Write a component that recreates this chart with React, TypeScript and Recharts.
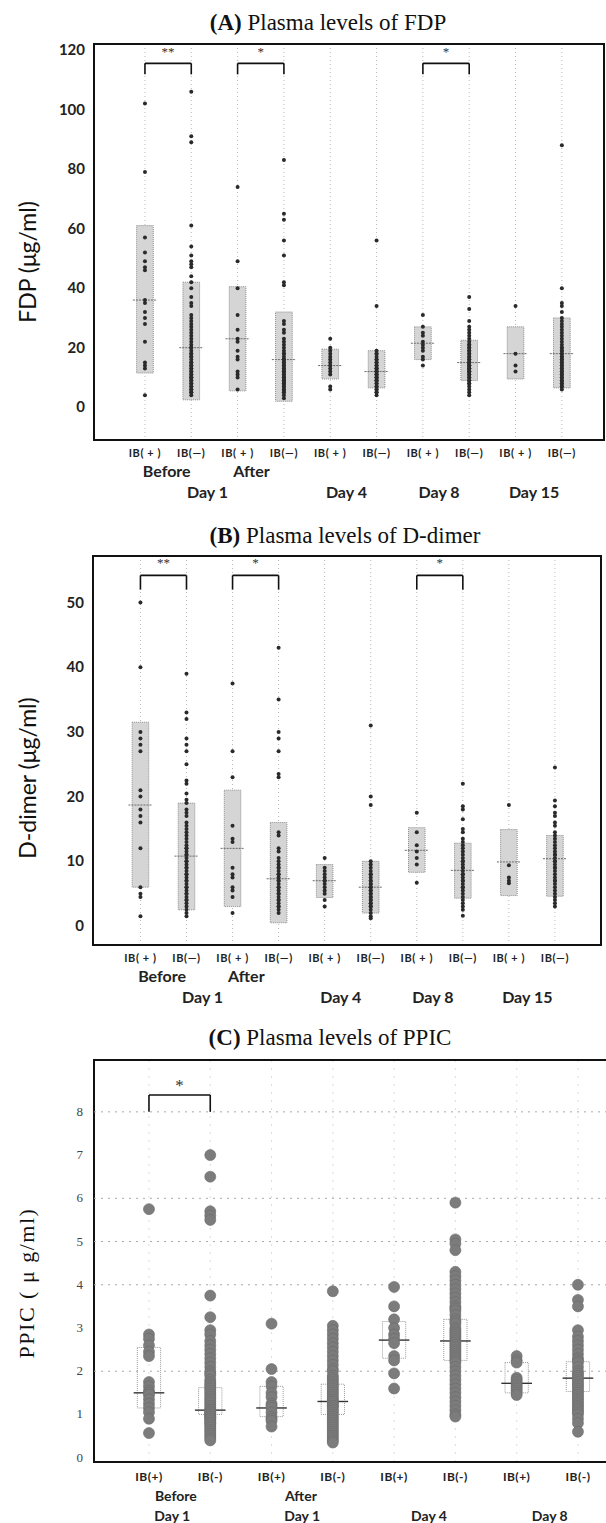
import React from 'react';
import {
  ScatterChart,
  Scatter,
  XAxis,
  YAxis,
  CartesianGrid,
  ReferenceArea,
  ReferenceLine,
  ReferenceDot,
} from 'recharts';

// (A) FDP, ug/ml — one list per column
const fdpBeforePos = [102, 79, 57, 52, 49, 47, 46, 36, 35, 32, 30, 28, 22, 15, 14, 13, 4];
const fdpBeforeNeg = [
  106, 91, 89, 61, 54, 51, 49, 48, 47, 44, 42, 40, 37, 35, 34, 31, 30, 29, 28, 27, 26, 25, 24, 23, 22, 21,
  20, 20, 19, 18, 18, 17, 17, 16, 15, 15, 14, 14, 13, 13, 12, 12, 11, 11, 10, 10, 10, 9, 9, 8, 8, 7, 7, 6, 6,
  5, 5, 4,
];
const fdpAfterPos = [74, 49, 40, 31, 26, 23, 22, 19, 17, 16, 12, 11, 10, 6];
const fdpAfterNeg = [
  83, 65, 63, 56, 51, 42, 41, 29, 28, 26, 25, 23, 22, 21, 20, 19, 18, 18, 17, 16, 16, 15, 15, 14, 14, 13, 13,
  12, 12, 12, 11, 11, 10, 10, 10, 9, 9, 9, 8, 8, 8, 7, 7, 6, 6, 5, 5, 4, 3,
];
const fdpDay4Pos = [23, 20, 19, 18, 17, 16, 15, 14, 13, 12, 11, 7, 6];
const fdpDay4Neg = [
  56, 34, 19, 18, 18, 17, 16, 16, 15, 15, 14, 14, 13, 13, 13, 12, 12, 12, 11, 11, 11, 10, 10, 10, 9, 9, 9, 8,
  8, 7, 7, 6, 6, 5, 5, 4,
];
const fdpDay8Pos = [31, 27, 25, 24, 22, 21, 20, 19, 17, 16, 14];
const fdpDay8Neg = [
  37, 33, 29, 27, 26, 25, 24, 23, 22, 21, 21, 20, 20, 19, 19, 18, 18, 17, 17, 16, 16, 15, 15, 15, 14, 14, 14,
  13, 13, 13, 12, 12, 12, 11, 11, 10, 10, 9, 9, 8, 8, 7, 6, 5, 4,
];
const fdpDay15Pos = [34, 18, 14, 12];
const fdpDay15Neg = [
  88, 40, 35, 34, 32, 30, 29, 28, 27, 26, 25, 24, 23, 22, 21, 20, 20, 19, 19, 18, 18, 17, 17, 16, 16, 15, 15,
  14, 14, 13, 13, 12, 12, 11, 11, 10, 10, 9, 9, 8, 8, 7, 7, 6,
];
const fdpQ1 = [11.5, 2.5, 5.5, 2, 9.5, 6.5, 16, 9, 9.5, 6.5];
const fdpMedian = [36, 20, 23, 16, 14, 12, 21.5, 15, 18, 18];
const fdpQ3 = [61, 42, 40.5, 32, 19.5, 19, 27, 22.5, 27, 30];
const fdpTicks = [0, 20, 40, 60, 80, 100, 120];

// (B) D-dimer, ug/ml
const ddBeforePos = [50, 40, 30, 29, 28, 27, 21, 20, 18, 17, 16, 12, 6, 5, 4.5, 1.5];
const ddBeforeNeg = [
  39, 33, 32, 29, 28, 27, 25, 22.5, 22, 20.5, 19.5, 19, 18, 17.5, 17, 16, 15.5, 15, 14.5, 14, 13.5, 13, 12.5,
  12, 12, 11.5, 11, 11, 10.5, 10, 10, 9.5, 9, 9, 8.5, 8, 8, 7.5, 7, 7, 6.5, 6, 6, 5.5, 5, 5, 4.5, 4, 4, 3.5, 3,
  2.5, 2, 1.5,
];
const ddAfterPos = [37.5, 27, 23, 15.5, 13.5, 13, 9, 8, 7.5, 6, 5.5, 4.5, 2];
const ddAfterNeg = [
  43, 35, 30, 29, 27, 23.5, 23, 14.5, 14, 12, 11.5, 10.5, 10, 9.5, 9, 9, 8.5, 8, 8, 7.5, 7, 7, 6.5, 6, 6, 5.5,
  5, 5, 4.5, 4, 4, 3.5, 3, 3, 2.5, 2,
];
const ddDay4Pos = [10.5, 9, 8.5, 8, 7.5, 7, 7, 6.5, 6, 5.5, 5, 4, 3];
const ddDay4Neg = [
  31, 20, 18.7, 10, 9.5, 9, 8.5, 8, 8, 7.5, 7, 7, 6.5, 6.5, 6, 6, 5.5, 5.5, 5, 5, 4.5, 4.5, 4, 4, 3.5, 3.5, 3,
  3, 2.5, 2, 1.5, 1.2,
];
const ddDay8Pos = [17.5, 14.5, 12.5, 11.5, 10.5, 9.5, 6.7];
const ddDay8Neg = [
  22, 18.5, 18, 16.5, 15, 14.5, 13.5, 13, 12.5, 12, 11.5, 11, 10.5, 10, 10, 9.5, 9, 9, 8.5, 8, 8, 7.5, 7, 7,
  6.5, 6, 6, 5.5, 5, 4.5, 4, 3.5, 3, 2.5, 1.6,
];
const ddDay15Pos = [18.7, 9.4, 7.5, 7, 6.6];
const ddDay15Neg = [
  24.5, 19.4, 18.5, 17.5, 17, 16, 15.5, 14.5, 14, 13.5, 13, 12.5, 12, 11.5, 11, 11, 10.5, 10, 10, 9.5, 9, 9,
  8.5, 8, 7.5, 7, 7, 6.5, 6, 5.5, 5, 4.5, 4, 3.5, 3,
];
const ddQ1 = [6, 2.5, 3, 0.5, 4.4, 2, 8.3, 4.3, 4.7, 4.6];
const ddMedian = [18.7, 10.8, 12, 7.3, 7, 6, 11.7, 8.6, 9.9, 10.4];
const ddQ3 = [31.5, 19, 21, 16, 9.5, 10, 15.2, 12.8, 14.9, 14];
const ddTicks = [0, 10, 20, 30, 40, 50];

// (C) PPIC, ug/ml
const ppicBeforePos = [5.75, 2.85, 2.75, 2.6, 2.45, 2.35, 1.75, 1.65, 1.55, 1.5, 1.45, 1.35, 1.25, 1.15, 1.05, 0.9, 0.57];
const ppicBeforeNeg = [
  7.0, 6.5, 5.7, 5.6, 5.5, 3.75, 3.25, 2.95, 2.85, 2.7, 2.6, 2.5, 2.4, 2.3, 2.2, 2.1, 2.0, 1.95, 1.9, 1.8, 1.75,
  1.7, 1.65, 1.6, 1.55, 1.5, 1.45, 1.4, 1.35, 1.3, 1.25, 1.2, 1.15, 1.1, 1.1, 1.05, 1.05, 1.0, 1.0, 0.95, 0.95,
  0.9, 0.9, 0.85, 0.8, 0.8, 0.75, 0.7, 0.65, 0.6, 0.55, 0.5, 0.45, 0.4,
];
const ppicAfterPos = [3.1, 2.05, 1.75, 1.65, 1.5, 1.4, 1.25, 1.2, 1.15, 1.05, 0.95, 0.9, 0.85, 0.72];
const ppicAfterNeg = [
  3.85, 3.05, 2.95, 2.85, 2.75, 2.65, 2.55, 2.45, 2.35, 2.25, 2.15, 2.05, 2.0, 1.9, 1.85, 1.8, 1.75, 1.7, 1.65,
  1.6, 1.55, 1.5, 1.45, 1.4, 1.35, 1.3, 1.3, 1.25, 1.2, 1.2, 1.15, 1.1, 1.05, 1.0, 0.95, 0.9, 0.85, 0.8, 0.75,
  0.7, 0.65, 0.6, 0.55, 0.5, 0.45, 0.4, 0.35,
];
const ppicDay4Pos = [3.95, 3.5, 3.2, 3.0, 2.85, 2.75, 2.65, 2.35, 2.25, 1.95, 1.6];
const ppicDay4Neg = [
  5.9, 5.05, 4.95, 4.8, 4.3, 4.2, 4.1, 4.0, 3.9, 3.8, 3.7, 3.6, 3.5, 3.45, 3.4, 3.3, 3.2, 3.15, 3.1, 3.0, 2.95,
  2.9, 2.85, 2.8, 2.75, 2.7, 2.65, 2.6, 2.55, 2.5, 2.45, 2.4, 2.35, 2.3, 2.25, 2.2, 2.1, 2.0, 1.9, 1.8, 1.7, 1.6,
  1.5, 1.4, 1.3, 1.2, 1.1, 1.0, 0.95,
];
const ppicDay8Pos = [2.35, 2.25, 2.2, 1.85, 1.8, 1.75, 1.7, 1.65, 1.6, 1.55, 1.5, 1.45];
const ppicDay8Neg = [
  4.0, 3.65, 3.5, 2.95, 2.8, 2.7, 2.6, 2.5, 2.4, 2.3, 2.25, 2.2, 2.1, 2.0, 1.95, 1.9, 1.85, 1.8, 1.75, 1.7,
  1.65, 1.6, 1.55, 1.5, 1.45, 1.4, 1.35, 1.3, 1.25, 1.2, 1.15, 1.1, 1.05, 1.0, 0.9, 0.8, 0.6,
];
const ppicQ1 = [1.15, 1.0, 0.95, 1.0, 2.3, 2.25, 1.5, 1.53];
const ppicMedian = [1.5, 1.1, 1.15, 1.3, 2.72, 2.7, 1.72, 1.84];
const ppicQ3 = [2.55, 1.62, 1.65, 1.7, 3.15, 3.2, 2.2, 2.22];
const ppicTicks = [0, 1, 2, 3, 4, 5, 6, 7, 8];
const ppicGridLines = [2, 4, 5, 6, 8];

// axis labels
const ibLabelsAB = ['IB( + )', 'IB(—)', 'IB( + )', 'IB(—)', 'IB( + )', 'IB(—)', 'IB( + )', 'IB(—)', 'IB( + )', 'IB(—)'];
const groupLabelsAB = ['Before', 'After', 'Day 1', 'Day 4', 'Day 8', 'Day 15'];
const groupPosAB = [0.47, 2.3, 1.35, 4.35, 6.35, 8.4];
const groupRowAB = [0, 0, 1, 1, 1, 1];

const ibLabelsC = ['IB(+)', 'IB(-)', 'IB(+)', 'IB(-)', 'IB(+)', 'IB(-)', 'IB(+)', 'IB(-)'];
const groupLabelsC = ['Before', 'Day 1', 'After', 'Day 1', 'Day 4', 'Day 8'];
const groupPosC = [0.44, 0.38, 2.48, 2.5, 4.57, 6.54];
const groupRowC = [0, 1, 0, 1, 1, 1];

// significance brackets: [from, to, stars]
const fdpBrackets: [number, number, string][] = [[0, 1, '**'], [2, 3, '*'], [6, 7, '*']];
const ddBrackets: [number, number, string][] = [[0, 1, '**'], [2, 3, '*'], [6, 7, '*']];
const ppicBrackets: [number, number, string][] = [[0, 1, '*']];

const SANS = 'Lato, "Open Sans", sans-serif';
const SERIF = '"Liberation Serif", "DejaVu Serif", serif';

const toPoints = (cols: number[][]) => cols.flatMap((vals, i) => vals.map((v) => ({ x: i, y: v })));

interface PanelProps {
  cols: number[][];
  q1: number[];
  med: number[];
  q3: number[];
  yDomain: [number, number];
  yTicks: number[];
  xDomain: [number, number];
  ibLabels: string[];
  groupLabels: string[];
  groupPos: number[];
  groupRow: number[];
  brackets: [number, number, string][];
  bracketY: [number, number, number]; // top, leg end, star
  width: number;
  height: number;
  top: number;
  right: number;
  yWidth: number;
  ibHeight: number;
  groupHeight: number;
  variant: 'ab' | 'c';
  gridLines?: number[];
}

const Panel: React.FC<PanelProps> = (p) => {
  const isC = p.variant === 'c';
  const points = toPoints(p.cols);
  const idx = p.cols.map((_, i) => i);
  const boxHalf = isC ? 0.19 : 0.18;
  const medHalf = isC ? 0.25 : 0.26;

  const renderIb = (t: any) => (
    <text
      x={t.x}
      y={t.y + (isC ? 19 : 17)}
      textAnchor="middle"
      fontFamily={SANS}
      fontWeight={700}
      fontSize={isC ? 12 : 11}
      letterSpacing={isC ? 0.5 : 0.6}
      fill="#222"
    >
      {p.ibLabels[t.payload.value]}
    </text>
  );

  const renderGroup = (t: any) => {
    const k = p.groupPos.indexOf(t.payload.value);
    if (k < 0) return <g />;
    const row = p.groupRow[k];
    const dy = isC ? (row === 0 ? 19 : 39) : row === 0 ? 15 : 36;
    return (
      <text
        x={t.x}
        y={t.y + dy}
        textAnchor="middle"
        fontFamily={SANS}
        fontWeight={700}
        fontSize={isC ? 14 : 16}
        fill="#222"
      >
        {p.groupLabels[k]}
      </text>
    );
  };

  const renderY = (t: any) =>
    isC ? (
      <text x={p.yWidth - 11} y={t.y + 4} textAnchor="end" fontFamily={SERIF} fontSize={13} fill="#444">
        {t.payload.value}
      </text>
    ) : (
      <text x={p.yWidth - 9} y={t.y + 5} textAnchor="end" fontFamily={SANS} fontWeight={700} fontSize={15} fill="#222">
        {t.payload.value}
      </text>
    );

  const dot = (s: any) =>
    isC ? (
      <circle cx={s.cx} cy={s.cy} r={5.5} fill="#7c7c7c" stroke="#6a6a6a" strokeWidth={0.6} />
    ) : (
      <circle cx={s.cx} cy={s.cy} r={2} fill="#2a2a2a" />
    );

  return (
    <ScatterChart width={p.width} height={p.height} margin={{ top: p.top, right: p.right, bottom: 0, left: 0 }}>
      <CartesianGrid
        horizontal={false}
        stroke={isC ? '#dddddd' : '#b8b8b8'}
        strokeDasharray={isC ? '2 6' : '1 3'}
      />
      {(p.gridLines || []).map((v) => (
        <ReferenceLine key={`g${v}`} y={v} stroke="#a8a8a8" strokeDasharray="2 5" />
      ))}
      <XAxis
        dataKey="x"
        type="number"
        domain={p.xDomain}
        ticks={idx}
        interval={0}
        allowDataOverflow
        axisLine={false}
        tickLine={false}
        tickSize={0}
        tickMargin={0}
        height={p.ibHeight}
        tick={renderIb}
      />
      <XAxis
        xAxisId="grp"
        dataKey="x"
        type="number"
        domain={p.xDomain}
        ticks={p.groupPos}
        interval={0}
        allowDataOverflow
        axisLine={false}
        tickLine={false}
        tickSize={0}
        tickMargin={0}
        height={p.groupHeight}
        tick={renderGroup}
      />
      <YAxis
        dataKey="y"
        type="number"
        domain={p.yDomain}
        ticks={p.yTicks}
        interval={0}
        allowDataOverflow
        axisLine={false}
        tickLine={false}
        tickSize={0}
        width={p.yWidth}
        tick={renderY}
      />
      {idx.map((i) => (
        <ReferenceArea
          key={`box${i}`}
          x1={i - boxHalf}
          x2={i + boxHalf}
          y1={p.q1[i]}
          y2={p.q3[i]}
          fill={isC ? '#ffffff' : '#d5d5d5'}
          fillOpacity={isC ? 0 : 1}
          stroke={isC ? '#9a9a9a' : '#8c8c8c'}
          strokeDasharray="1 1"
          strokeWidth={1}
        />
      ))}
      <Scatter data={points} isAnimationActive={false} shape={dot} />
      {idx.map((i) => (
        <ReferenceLine
          key={`med${i}`}
          segment={[
            { x: i - medHalf, y: p.med[i] },
            { x: i + medHalf, y: p.med[i] },
          ]}
          stroke={isC ? '#333333' : '#6a6a6a'}
          strokeWidth={isC ? 1.4 : 1}
          strokeDasharray={isC ? undefined : '2 1'}
        />
      ))}
      {p.brackets.map(([a, b]) => (
        <ReferenceLine
          key={`bt${a}`}
          segment={[
            { x: a, y: p.bracketY[0] },
            { x: b, y: p.bracketY[0] },
          ]}
          stroke="#111"
          strokeWidth={1.6}
        />
      ))}
      {p.brackets.flatMap(([a, b]) =>
        [a, b].map((e) => (
          <ReferenceLine
            key={`bl${a}-${e}`}
            segment={[
              { x: e, y: p.bracketY[0] },
              { x: e, y: p.bracketY[1] },
            ]}
            stroke="#111"
            strokeWidth={1.6}
          />
        )),
      )}
      {p.brackets.map(([a, b, stars]) => (
        <ReferenceDot
          key={`st${a}`}
          x={(a + b) / 2}
          y={p.bracketY[2]}
          r={0}
          shape={(s: any) => (
            <text
              x={s.cx}
              y={s.cy + 5}
              textAnchor="middle"
              fontFamily={SERIF}
              fontSize={isC ? 17 : 13}
              fill="#333"
            >
              {stars}
            </text>
          )}
        />
      ))}
      {/* plot frame */}
      <ReferenceArea
        x1={p.xDomain[0]}
        x2={p.xDomain[1]}
        y1={p.yDomain[0]}
        y2={p.yDomain[1]}
        ifOverflow="visible"
        fill="none"
        fillOpacity={0}
        stroke="#111"
        strokeWidth={2}
      />
    </ScatterChart>
  );
};

const titleStyle = (cx: number, top: number): React.CSSProperties => ({
  position: 'absolute',
  left: cx - 200,
  width: 400,
  top,
  textAlign: 'center',
  fontFamily: SERIF,
  fontSize: 23,
  lineHeight: '26px',
  color: '#111',
  whiteSpace: 'nowrap',
});

const yTitleStyle = (cx: number, cy: number, serif: boolean): React.CSSProperties => ({
  position: 'absolute',
  left: cx,
  top: cy,
  transform: 'translate(-50%, -50%) rotate(-90deg)',
  fontFamily: serif ? SERIF : SANS,
  fontSize: serif ? 22 : 23,
  letterSpacing: serif ? 1.5 : 0,
  color: '#111',
  whiteSpace: 'nowrap',
});

export default function App() {
  return (
    <div
      style={{
        position: 'absolute',
        left: 0,
        top: 0,
        width: 606,
        height: 1523,
        overflow: 'hidden',
        background: '#fff',
      }}
    >
      <div style={titleStyle(328, 10)}>
        <b>(A)</b> Plasma levels of FDP
      </div>
      <div style={{ position: 'absolute', left: 0, top: 0 }}>
        <Panel
          cols={[fdpBeforePos, fdpBeforeNeg, fdpAfterPos, fdpAfterNeg, fdpDay4Pos, fdpDay4Neg, fdpDay8Pos, fdpDay8Neg, fdpDay15Pos, fdpDay15Neg]}
          q1={fdpQ1}
          med={fdpMedian}
          q3={fdpQ3}
          yDomain={[-11, 122]}
          yTicks={fdpTicks}
          xDomain={[-1.1, 9.91]}
          ibLabels={ibLabelsAB}
          groupLabels={groupLabelsAB}
          groupPos={groupPosAB}
          groupRow={groupRowAB}
          brackets={fdpBrackets}
          bracketY={[115.5, 111.8, 119.5]}
          width={606}
          height={510}
          top={44}
          right={2}
          yWidth={94}
          ibHeight={22}
          groupHeight={48}
          variant="ab"
        />
      </div>
      <div style={yTitleStyle(27, 262, false)}>FDP (μg/ml)</div>

      <div style={titleStyle(345, 523)}>
        <b>(B)</b> Plasma levels of D-dimer
      </div>
      <div style={{ position: 'absolute', left: 0, top: 500 }}>
        <Panel
          cols={[ddBeforePos, ddBeforeNeg, ddAfterPos, ddAfterNeg, ddDay4Pos, ddDay4Neg, ddDay8Pos, ddDay8Neg, ddDay15Pos, ddDay15Neg]}
          q1={ddQ1}
          med={ddMedian}
          q3={ddQ3}
          yDomain={[-2.94, 57.2]}
          yTicks={ddTicks}
          xDomain={[-1.03, 10.0]}
          ibLabels={ibLabelsAB}
          groupLabels={groupLabelsAB}
          groupPos={groupPosAB}
          groupRow={groupRowAB}
          brackets={ddBrackets}
          bracketY={[54.2, 52.0, 56.2]}
          width={606}
          height={515}
          top={56}
          right={5}
          yWidth={93}
          ibHeight={22}
          groupHeight={48}
          variant="ab"
        />
      </div>
      <div style={yTitleStyle(27, 778, false)}>D-dimer (μg/ml)</div>

      <div style={titleStyle(330, 1025)}>
        <b>(C)</b> Plasma levels of PPIC
      </div>
      <div style={{ position: 'absolute', left: 0, top: 1010 }}>
        <Panel
          cols={[ppicBeforePos, ppicBeforeNeg, ppicAfterPos, ppicAfterNeg, ppicDay4Pos, ppicDay4Neg, ppicDay8Pos, ppicDay8Neg]}
          q1={ppicQ1}
          med={ppicMedian}
          q3={ppicQ3}
          yDomain={[-0.1, 9.2]}
          yTicks={ppicTicks}
          xDomain={[-0.897, 7.98]}
          ibLabels={ibLabelsC}
          groupLabels={groupLabelsC}
          groupPos={groupPosC}
          groupRow={groupRowC}
          brackets={ppicBrackets}
          bracketY={[8.39, 8.0, 8.6]}
          width={640}
          height={513}
          top={50}
          right={2}
          yWidth={94}
          ibHeight={20}
          groupHeight={41}
          variant="c"
          gridLines={ppicGridLines}
        />
      </div>
      <div style={yTitleStyle(27, 1283, true)}>PPIC ( μ g/ml)</div>
    </div>
  );
}
